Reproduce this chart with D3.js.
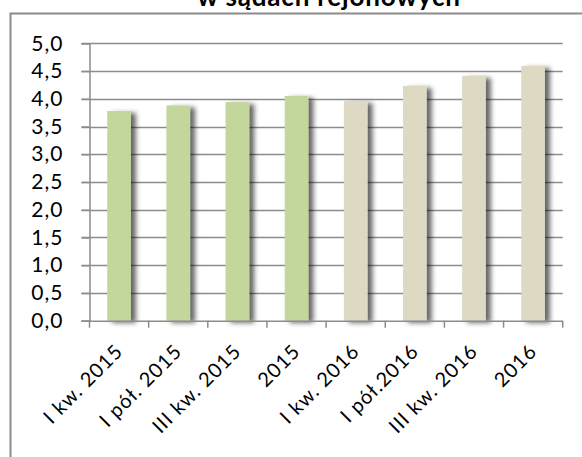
<!DOCTYPE html>
<html>
<head>
<meta charset="utf-8">
<script src="https://cdn.jsdelivr.net/npm/d3@7"></script>
<style>
  body { margin: 0; background: #fff; }
  text { font-family: Lato, "Open Sans", sans-serif; fill: #000; }
</style>
</head>
<body>
<svg id="view" width="582" height="457"></svg>
<script>
// data
var categories = ['I kw. 2015', 'I pół. 2015', 'III kw. 2015', '2015', 'I kw. 2016', 'I pół.2016', 'III kw. 2016', '2016'];
var values = [3.78, 3.88, 3.94, 4.05, 3.96, 4.23, 4.41, 4.59];
var barColors = ['#c3d69b', '#c3d69b', '#c3d69b', '#c3d69b', '#ddd9c3', '#ddd9c3', '#ddd9c3', '#ddd9c3'];
var yTicks = [0, 0.5, 1, 1.5, 2, 2.5, 3, 3.5, 4, 4.5, 5];
var title = 'w sądach rejonowych';

var svg = d3.select('svg#view');

var defs = svg.append('defs');
var f = defs.append('filter').attr('id', 'shadow')
  .attr('x', '-20%').attr('y', '-10%').attr('width', '170%').attr('height', '130%');
f.append('feDropShadow').attr('dx', 5).attr('dy', 2).attr('stdDeviation', 2.8)
  .attr('flood-color', '#000').attr('flood-opacity', 0.6);

// outer frame
svg.append('rect').attr('x', 10.5).attr('y', 13.5).attr('width', 600).attr('height', 500)
  .attr('fill', 'none').attr('stroke', '#8c8c8c').attr('stroke-width', 2);

// title, mostly cut off above
svg.append('text').attr('x', 329).attr('y', 6)
  .attr('text-anchor', 'middle').attr('font-weight', 'bold').attr('font-size', 26)
  .attr('letter-spacing', 0.8)
  .text(title);

var plotL = 89.5, plotR = 562.7, plotT = 43.3, plotB = 320.7;

var x = d3.scaleBand().domain(categories).range([plotL, plotR]).paddingInner(0.6).paddingOuter(0.3);
var y = d3.scaleLinear().domain([0, 5]).range([plotB, plotT]);

// gridlines
svg.append('g').selectAll('line').data(yTicks.slice(1)).join('line')
  .attr('x1', plotL - 8).attr('x2', plotR)
  .attr('y1', function(d) { return Math.round(y(d)) + 0.5; })
  .attr('y2', function(d) { return Math.round(y(d)) + 0.5; })
  .attr('stroke', '#8c8c8c').attr('stroke-width', 1.5);

// y axis
var yAxis = svg.append('g').attr('transform', 'translate(' + plotL + ',0)')
  .call(d3.axisLeft(y).tickValues(yTicks).tickSize(8).tickPadding(18)
    .tickFormat(function(d) { return d3.format('.1f')(d).replace('.', ','); }));
yAxis.select('.domain').attr('stroke', '#8c8c8c').attr('stroke-width', 1.5);
yAxis.selectAll('.tick line').attr('stroke', '#8c8c8c').attr('stroke-width', 1.5);
yAxis.selectAll('.tick text').attr('font-size', 21).attr('letter-spacing', 1)
  .attr('font-family', 'Lato, sans-serif').attr('fill', '#000');

// bars
svg.append('g').selectAll('rect').data(values).join('rect')
  .attr('x', function(d, i) { return x(categories[i]); })
  .attr('width', x.bandwidth())
  .attr('y', function(d) { return y(d); })
  .attr('height', function(d) { return y(0) - y(d); })
  .attr('fill', function(d, i) { return barColors[i]; })
  .attr('filter', 'url(#shadow)');

// x axis
var xTicks = d3.range(categories.length + 1).map(function(i) { return plotL + i * (plotR - plotL) / categories.length; });
var xg = svg.append('g');
xg.append('line').attr('x1', plotL - 8).attr('x2', plotR).attr('y1', plotB + 0.5).attr('y2', plotB + 0.5)
  .attr('stroke', '#8c8c8c').attr('stroke-width', 1.5);
xg.selectAll('line.t').data(xTicks).join('line').attr('class', 't')
  .attr('x1', function(d) { return d; }).attr('x2', function(d) { return d; })
  .attr('y1', plotB).attr('y2', plotB + 7)
  .attr('stroke', '#8c8c8c').attr('stroke-width', 1.5);

xg.selectAll('text').data(categories).join('text')
  .attr('text-anchor', 'end').attr('font-size', 20).attr('letter-spacing', 1)
  .attr('transform', function(d) {
    return 'translate(' + (x(d) + x.bandwidth() / 2 + 5) + ',' + (plotB + 32) + ') rotate(-45)';
  })
  .text(function(d) { return d; });
</script>
</body>
</html>
